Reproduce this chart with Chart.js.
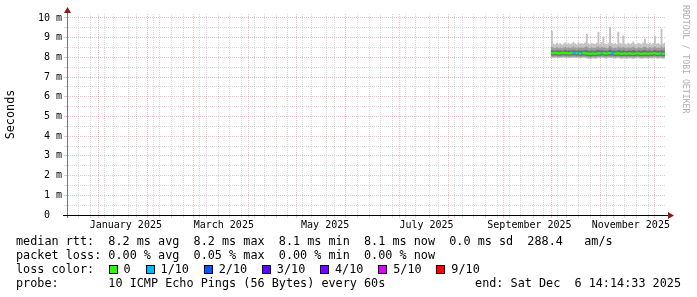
<!DOCTYPE html>
<html><head><meta charset="utf-8">
<script src="https://cdn.jsdelivr.net/npm/chart.js@4"></script>
<style>
html,body{margin:0;padding:0;background:#fff;}
#wrap{position:relative;width:697px;height:297px;overflow:hidden;background:#fff;}
#c{position:absolute;left:0;top:0;}
.t{position:absolute;font-family:'DejaVu Sans Mono',monospace;font-size:11.8px;line-height:14px;white-space:pre;color:#000;}
.box{position:absolute;width:7px;height:7px;border:1px solid #000;}
#wm{position:absolute;left:681px;top:5px;writing-mode:vertical-rl;font-family:'DejaVu Sans Mono',monospace;font-size:8.2px;line-height:10px;color:#b0b0b0;white-space:pre;}
</style></head>
<body>
<div id="wrap">
<canvas id="c" width="697" height="297"></canvas>
<div class="t" style="left:16px;top:234px">median rtt:  8.2 ms avg  8.2 ms max  8.1 ms min  8.1 ms now  0.0 ms sd  288.4   am/s</div>
<div class="t" style="left:16px;top:248px">packet loss: 0.00 % avg  0.05 % max  0.00 % min  0.00 % now</div>
<div class="t" style="left:16px;top:262px">loss color:</div>
<div id="lossLegend"></div>
<div class="t" style="left:16px;top:276px">probe:       10 ICMP Echo Pings (56 Bytes) every 60s</div>
<div class="t" style="right:16px;top:276px">end: Sat Dec  6 14:14:33 2025</div>
<div id="wm">RRDTOOL / TOBI OETIKER</div>
</div>
<script>
// ---------- data ----------
const RANGE_START = '2024-12-11T14:14:33Z';   // graph start (360 days)
const RANGE_DAYS = 360;
const DATA_START = '2025-09-29';               // first day with data (one value per day)

const monthGridDates = ['2025-01-01','2025-02-01','2025-03-01','2025-04-01','2025-05-01','2025-06-01',
  '2025-07-01','2025-08-01','2025-09-01','2025-10-01','2025-11-01','2025-12-01'];
const firstWeekGrid = '2024-12-15';
const monthLabels = ['January 2025','March 2025','May 2025','July 2025','September 2025','November 2025'];
const monthLabelDates = ['2025-01-16','2025-03-16','2025-05-16','2025-07-16','2025-09-16','2025-11-16'];
const yMax = 10.2, yLabelMax = 10, yStep = 0.5;

// ping distribution per day (ms)
const p10 = [9.35,8.70,8.66,8.74,8.68,8.72,8.65,8.70,8.76,8.69,
  8.73,8.67,8.71,8.78,8.70,8.66,8.74,8.69,8.72,8.68,
  8.75,9.20,8.71,8.66,8.73,8.70,8.68,8.74,9.30,8.69,
  8.77,9.05,8.70,8.66,8.72,9.55,8.74,8.68,8.71,8.67,
  9.30,8.73,8.69,9.10,8.70,8.66,8.74,8.68,8.72,8.80,
  8.69,8.66,8.73,8.70,8.67,8.75,8.95,8.71,8.68,8.74,
  8.66,8.72,9.10,8.69,8.73,8.67,9.45,8.70,8.74];
const p8 = [8.52,8.49,8.47,8.51,8.48,8.50,8.46,8.49,8.53,8.48,
  8.51,8.47,8.50,8.54,8.49,8.46,8.52,8.48,8.50,8.47,
  8.52,8.55,8.49,8.46,8.51,8.48,8.47,8.52,8.56,8.48,
  8.53,8.50,8.49,8.46,8.50,8.57,8.51,8.47,8.49,8.46,
  8.54,8.50,8.48,8.52,8.49,8.46,8.51,8.47,8.50,8.55,
  8.48,8.46,8.50,8.49,8.47,8.52,8.53,8.49,8.47,8.51,
  8.46,8.50,8.54,8.48,8.50,8.47,8.55,8.49,8.51];
const p6 = [8.36,8.35,8.34,8.36,8.35,8.35,8.33,8.35,8.37,8.34,
  8.36,8.34,8.35,8.37,8.35,8.33,8.36,8.34,8.35,8.34,
  8.36,8.37,8.34,8.32,8.35,8.34,8.33,8.36,8.38,8.34,
  8.36,8.35,8.34,8.33,8.35,8.38,8.35,8.34,8.34,8.33,
  8.37,8.35,8.33,8.36,8.34,8.32,8.35,8.33,8.34,8.37,
  8.34,8.32,8.35,8.34,8.33,8.36,8.36,8.34,8.33,8.35,
  8.32,8.34,8.37,8.34,8.35,8.33,8.37,8.34,8.35];
const median = [8.22,8.21,8.23,8.22,8.20,8.21,8.22,8.23,8.21,8.22,
  8.20,8.21,8.22,8.23,8.22,8.21,8.22,8.20,8.21,8.22,
  8.21,8.20,8.19,8.18,8.19,8.20,8.18,8.19,8.21,8.20,
  8.22,8.21,8.20,8.19,8.21,8.22,8.21,8.20,8.19,8.20,
  8.21,8.19,8.18,8.19,8.20,8.18,8.19,8.20,8.19,8.18,
  8.19,8.20,8.21,8.19,8.18,8.19,8.20,8.19,8.18,8.20,
  8.19,8.20,8.21,8.19,8.18,8.20,8.19,8.18,8.19];
const p4 = [8.10,8.09,8.11,8.10,8.08,8.09,8.10,8.11,8.09,8.10,
  8.08,8.09,8.10,8.11,8.10,8.09,8.10,8.08,8.09,8.10,
  8.09,8.07,8.06,8.05,8.06,8.08,8.06,8.07,8.09,8.08,
  8.10,8.09,8.08,8.07,8.09,8.10,8.09,8.08,8.07,8.08,
  8.09,8.07,8.06,8.07,8.08,8.06,8.07,8.08,8.07,8.06,
  8.07,8.08,8.09,8.07,8.06,8.07,8.08,8.07,8.06,8.08,
  8.07,8.08,8.09,8.07,8.06,8.08,8.07,8.06,8.07];
const p2 = [8.03,8.02,8.04,8.03,8.01,8.02,8.03,8.04,8.02,8.03,
  8.01,8.02,8.03,8.04,8.03,8.02,8.03,8.01,8.02,8.03,
  8.02,8.00,7.99,7.98,7.99,8.01,7.99,8.00,8.02,8.01,
  8.03,8.02,8.01,8.00,8.02,8.03,8.02,8.01,8.00,8.01,
  8.02,8.00,7.99,8.00,8.01,7.99,8.00,8.01,8.00,7.99,
  8.00,8.01,8.02,8.00,7.99,8.00,8.01,8.00,7.99,8.01,
  8.00,8.01,8.02,8.00,7.99,8.01,8.00,7.99,8.00];
const p1 = [7.97,7.96,7.98,7.97,7.95,7.96,7.97,7.98,7.96,7.97,
  7.95,7.96,7.97,7.98,7.97,7.96,7.97,7.95,7.96,7.97,
  7.96,7.94,7.93,7.92,7.93,7.95,7.93,7.94,7.96,7.95,
  7.97,7.96,7.95,7.94,7.96,7.97,7.96,7.95,7.94,7.95,
  7.96,7.94,7.93,7.94,7.95,7.93,7.94,7.95,7.94,7.93,
  7.94,7.95,7.96,7.94,7.93,7.94,7.95,7.94,7.93,7.95,
  7.94,7.95,7.96,7.94,7.93,7.95,7.94,7.93,7.94];
// lost pings out of 10, per day
const lossTenths = [0,0,0,0,0,0,0,0,0,0,
  0,0,0,1,1,0,1,0,1,0,
  0,0,0,0,0,0,0,0,0,0,
  1,0,0,0,0,0,1,1,0,0,
  0,0,0,0,0,0,0,0,0,0,
  0,0,0,0,0,0,0,0,0,0,
  0,0,0,0,0,0,1,0,0];

const lossLabels = ['0','1/10','2/10','3/10','4/10','5/10','9/10'];
const lossColors = ['#26ff00','#00b8ff','#0059ff','#5e00ff','#7e00ff','#dd00ff','#ff0000'];

// ---------- helpers ----------
const START_MS = Date.parse(RANGE_START);
const dayOf = d => (Date.parse(d + 'T00:00:00Z') - START_MS) / 86400000;
const lossColor = l => lossColors[Math.min(l, 6)];
const X0 = dayOf(DATA_START) + 0.5;
const band = (lo, hi) => lo.map((v, i) => ({x: X0 + i, y: [v, hi[i]]}));

const MAJOR = 'rgba(230,100,100,0.42)';
const MINOR = 'rgba(160,160,160,0.4)';

const xTicks = [];
monthGridDates.forEach(d => xTicks.push({value: dayOf(d), kind: 'major', label: ''}));
for (let t = dayOf(firstWeekGrid); t < RANGE_DAYS; t += 7) {
  if (!xTicks.some(k => Math.abs(k.value - t) < 1e-6)) xTicks.push({value: t, kind: 'minor', label: ''});
}
monthLabelDates.forEach((d, i) => xTicks.push({value: dayOf(d), kind: 'label', label: monthLabels[i]}));
xTicks.sort((a, b) => a.value - b.value);

const yTicks = [];
for (let k = 0; k * yStep <= yLabelMax + 1e-9; k++) yTicks.push({value: k * yStep});

// loss legend (HTML text)
(function () {
  const host = document.getElementById('lossLegend');
  let x = 108.5;
  lossLabels.forEach((lab, i) => {
    const b = document.createElement('div');
    b.className = 'box';
    b.style.left = x + 'px'; b.style.top = '265px'; b.style.background = lossColors[i];
    host.appendChild(b);
    const t = document.createElement('div');
    t.className = 't';
    t.style.left = (x + 15) + 'px'; t.style.top = '262px';
    t.textContent = lab;
    host.appendChild(t);
    x = x + 15 + lab.length * 7.04 + 15;
  });
})();

const axisArrows = {
  id: 'axisArrows',
  afterDraw(chart) {
    const {ctx, chartArea: a} = chart;
    ctx.save();
    ctx.lineWidth = 1;
    ctx.strokeStyle = '#777';
    ctx.beginPath(); ctx.moveTo(a.left + 0.5, a.bottom + 3); ctx.lineTo(a.left + 0.5, a.top - 2); ctx.stroke();
    ctx.strokeStyle = '#000';
    ctx.beginPath(); ctx.moveTo(a.left - 4, a.bottom + 0.5); ctx.lineTo(a.right + 5, a.bottom + 0.5); ctx.stroke();
    ctx.fillStyle = '#8b1a1a';
    ctx.beginPath(); ctx.moveTo(a.left + 0.5, a.top - 7); ctx.lineTo(a.left - 3, a.top - 1); ctx.lineTo(a.left + 4, a.top - 1); ctx.closePath(); ctx.fill();
    ctx.beginPath(); ctx.moveTo(a.right + 9, a.bottom + 0.5); ctx.lineTo(a.right + 3, a.bottom - 3); ctx.lineTo(a.right + 3, a.bottom + 4); ctx.closePath(); ctx.fill();
    ctx.restore();
  }
};

const common = {type: 'bar', grouped: false, barPercentage: 1.15, categoryPercentage: 1, borderWidth: 0};

new Chart(document.getElementById('c'), {
  type: 'bar',
  data: {
    datasets: [
      Object.assign({label: 'median', order: 0,
        data: median.map((m, i) => ({x: X0 + i, y: [m - 0.055, m + 0.055]})),
        backgroundColor: lossTenths.map(lossColor)}, common),
      Object.assign({label: 'inner', order: 1, data: band(p4, p6), backgroundColor: '#6e6e6e'}, common),
      Object.assign({label: 'middle', order: 2, data: band(p2, p8), backgroundColor: '#9a9a9a'}, common),
      Object.assign({label: 'outer', order: 3, data: band(p1, p10), backgroundColor: '#c2c2c2'}, common)
    ]
  },
  options: {
    responsive: false,
    devicePixelRatio: 1,
    animation: false,
    layout: {padding: {left: 0, right: 32, top: 14, bottom: 0}},
    plugins: {legend: {display: false}, tooltip: {enabled: false}},
    scales: {
      x: {
        type: 'linear', min: 0, max: RANGE_DAYS, offset: false,
        afterBuildTicks: s => { s.ticks = xTicks.map(t => Object.assign({}, t)); },
        afterFit: s => { s.height = 82; },
        grid: {
          color: c => !c.tick ? 'rgba(0,0,0,0)' : (c.tick.kind === 'major' ? MAJOR : (c.tick.kind === 'minor' ? MINOR : 'rgba(0,0,0,0)')),
          tickLength: 3, drawTicks: true
        },
        border: {display: true, color: '#000', width: 1, dash: [1, 1]},
        ticks: {
          autoSkip: false, maxRotation: 0, minRotation: 0, padding: 1, color: '#000',
          font: {family: 'DejaVu Sans Mono', size: 10},
          callback: (v, i, ticks) => (ticks[i] && ticks[i].label) || ''
        }
      },
      y: {
        type: 'linear', min: 0, max: yMax,
        afterBuildTicks: s => { s.ticks = yTicks.map(t => Object.assign({}, t)); },
        afterFit: s => { s.width = 67; },
        grid: {
          color: c => (c.tick && Number.isInteger(c.tick.value)) ? MAJOR : MINOR,
          tickLength: 3, drawTicks: true
        },
        border: {display: true, color: '#777', width: 1, dash: [1, 1]},
        ticks: {
          autoSkip: false, padding: 2, color: '#000',
          font: {family: 'DejaVu Sans Mono', size: 10},
          callback: v => v === 0 ? '0  ' : (Number.isInteger(v) ? v + ' m' : '')
        },
        title: {display: true, text: 'Seconds', color: '#000',
          font: {family: 'DejaVu Sans Mono', size: 11.8}, padding: {top: 4, bottom: 0}}
      }
    }
  },
  plugins: [axisArrows]
});
</script>
</body></html>
